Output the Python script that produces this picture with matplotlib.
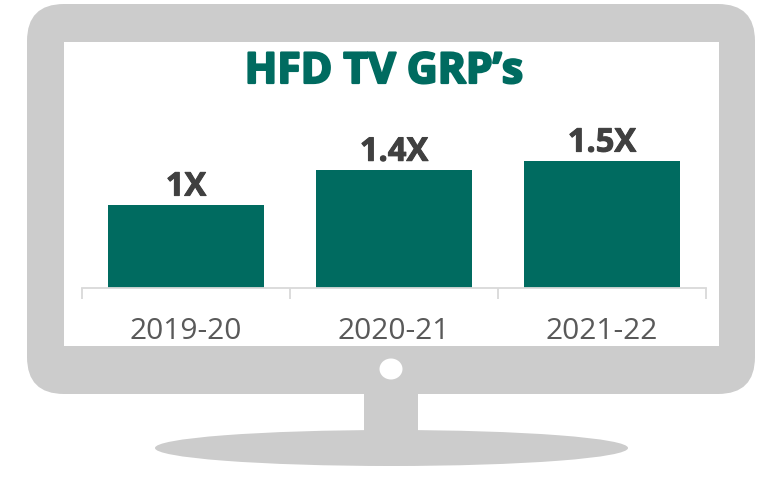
import matplotlib
matplotlib.use('Agg')
import matplotlib.pyplot as plt
import matplotlib.patheffects as pe
from matplotlib.patches import FancyBboxPatch, Rectangle, Ellipse

# Data
seasons = ['2019-20', '2020-21', '2021-22']
grp_index = [1.0, 1.42, 1.53]
bar_labels = ['1X', '1.4X', '1.5X']

W, H = 769, 479
TEAL = '#006B60'
GRAY = '#CCCCCC'

plt.rcParams['font.family'] = ['Open Sans', 'DejaVu Sans']

fig = plt.figure(figsize=(W / 100, H / 100), dpi=100)

# Monitor drawn behind the chart, in pixel coordinates
bg = fig.add_axes([0, 0, 1, 1])
bg.set_xlim(0, W)
bg.set_ylim(H, 0)
bg.axis('off')
bg.add_patch(Ellipse((391.5, 448), 473, 36, color=GRAY, lw=0))
bg.add_patch(Rectangle((364, 390), 54, 44, color=GRAY, lw=0))
bg.add_patch(FancyBboxPatch((27 + 37, 4 + 37), 728 - 74, 390 - 74,
                            boxstyle='round,pad=37,rounding_size=37',
                            facecolor=GRAY, edgecolor='none'))
bg.add_patch(Rectangle((64, 42), 655, 304, color='white', lw=0))
bg.add_patch(Ellipse((391, 369), 23, 21, color='white', lw=0))

# Chart area: baseline at y=288, spanning x=82..706
left, right, base, top = 82, 706, 288, 100
ax = fig.add_axes([left / W, 1 - base / H, (right - left) / W, (base - top) / H])
ax.patch.set_alpha(0)
x = [0.5, 1.5, 2.5]
bars = ax.bar(x, grp_index, width=0.75, color=TEAL)
ax.set_xlim(0, 3)
ax.set_ylim(0, 188 / 83)

for b, lab in zip(bars, bar_labels):
    t = ax.annotate(lab, (b.get_x() + b.get_width() / 2, b.get_height()),
                    xytext=(0, 1), textcoords='offset points', ha='center', va='bottom',
                    fontsize=23.5, fontweight='bold', color='#404040')
    t.set_path_effects([pe.withStroke(linewidth=0.7, foreground='#404040')])

for s in ['top', 'left', 'right']:
    ax.spines[s].set_visible(False)
ax.spines['bottom'].set_color('#D9D9D9')
ax.spines['bottom'].set_linewidth(1.3)
ax.set_yticks([])
ax.set_xticks([0, 1, 2, 3])
ax.set_xticklabels([])
ax.tick_params(axis='x', which='major', length=8, width=1.3, color='#D9D9D9')
ax.set_xticks(x, minor=True)
ax.set_xticklabels(seasons, minor=True, fontsize=21.5, color='#595959')
ax.tick_params(axis='x', which='minor', length=0, pad=21)

title = fig.text(384 / W, 1 - 83 / H, 'HFD TV GRP\u2019s', ha='center', va='baseline',
                 fontsize=30.7, fontweight='bold', color=TEAL)
title.set_path_effects([pe.withStroke(linewidth=1.6, foreground=TEAL)])

fig.savefig('out.png', dpi=100)
